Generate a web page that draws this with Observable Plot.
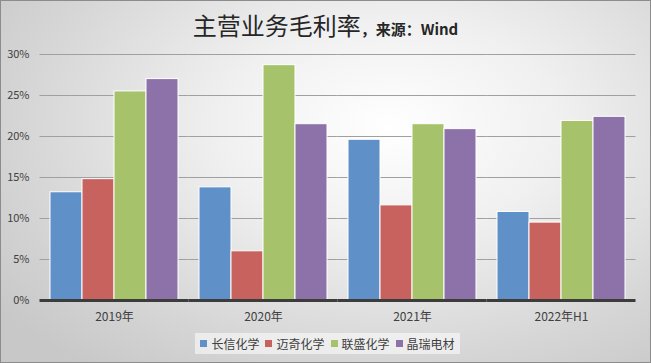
<!DOCTYPE html>
<html>
<head>
<meta charset="utf-8">
<script src="https://cdn.jsdelivr.net/npm/d3@7"></script>
<script src="https://cdn.jsdelivr.net/npm/@observablehq/plot@0.6"></script>
<style>
  html, body { margin: 0; padding: 0; }
  #chart {
    box-sizing: border-box; width: 651px; height: 363px; border: 1px solid #8c8c8c;
    background: radial-gradient(ellipse 75% 85% at 60% 35%, #ffffff 0%, #f0f0f0 35%, #d6d6d6 75%, #c8c8c8 100%);
    font-family: "Noto Sans CJK SC", sans-serif; overflow: hidden;
  }
  #title { height: 43px; display: flex; justify-content: center; align-items: baseline; box-sizing: border-box; padding-top: 6px; color: #262626; }
  #title .main { font-size: 24px; }
  #title .sub { font-size: 15px; font-weight: bold; }
  #legend-wrap { display: flex; justify-content: center; margin-top: 4px; padding-left: 4px; }
  #legend { display: flex; align-items: center; gap: 6px; height: 21px; padding: 0 5px; background: rgba(255,255,255,0.55); font-size: 12px; color: #404040; }
  #legend .item { display: flex; align-items: center; gap: 4px; }
  #legend .sw { width: 7px; height: 7px; display: inline-block; }
</style>
</head>
<body>
<div id="chart">
  <div id="title"><span class="main">主营业务毛利率</span><span class="sub">，来源：Wind</span></div>
  <div id="plot"></div>
  <div id="legend-wrap"><div id="legend"></div></div>
</div>
<script>
const years = ["2019年", "2020年", "2021年", "2022年H1"];
const companies = ["长信化学", "迈奇化学", "联盛化学", "晶瑞电材"];
const changxin = [13.2, 13.8, 19.6, 10.8];
const maiqi = [14.8, 6.0, 11.6, 9.5];
const liansheng = [25.5, 28.7, 21.5, 21.9];
const jingrui = [27.0, 21.5, 20.9, 22.4];
const colors = ["#6090c8", "#c7625f", "#a6c36c", "#8d72aa"];

const series = [changxin, maiqi, liansheng, jingrui];
const data = years.flatMap((yr, i) => companies.map((c, j) => ({year: yr, company: c, value: series[j][i]})));

const chart = Plot.plot({
  width: 649, height: 285,
  marginLeft: 37, marginRight: 13, marginTop: 10, marginBottom: 29,
  style: {background: "transparent", fontFamily: "'Noto Sans CJK SC', sans-serif", fontSize: "11px", color: "#404040"},
  fx: {domain: years, paddingInner: 0.14, paddingOuter: 0.07, label: null, tickSize: 0, tickPadding: 12, axis: "bottom"},
  x: {domain: companies, axis: null, padding: 0},
  y: {domain: [0, 30], ticks: 6, tickFormat: d => d + "%", label: null, tickSize: 0, tickPadding: 21},
  color: {domain: companies, range: colors},
  marks: [
    Plot.ruleY([5, 10, 15, 20, 25, 30], {stroke: "#a0a0a0", insetLeft: -10.5, insetRight: -10.5}),
    Plot.barY(data, {fx: "year", x: "company", y: "value", fill: "company", stroke: "white", strokeWidth: 1}),
    Plot.ruleY([0], {stroke: "#3c3c3c", strokeWidth: 3, insetLeft: -10.5, insetRight: -10.5})
  ]
});
chart.querySelectorAll("text").forEach(t => { if (t.closest("[aria-label='fx-axis']") || t.closest("[aria-label='fx-axis tick label']")) t.style.fontSize = "12px"; });
document.getElementById("plot").appendChild(chart);

const legend = document.getElementById("legend");
companies.forEach((c, i) => {
  const it = document.createElement("span");
  it.className = "item";
  it.innerHTML = `<span class="sw" style="background:${colors[i]}"></span><span>${c}</span>`;
  legend.appendChild(it);
});
</script>
</body>
</html>
